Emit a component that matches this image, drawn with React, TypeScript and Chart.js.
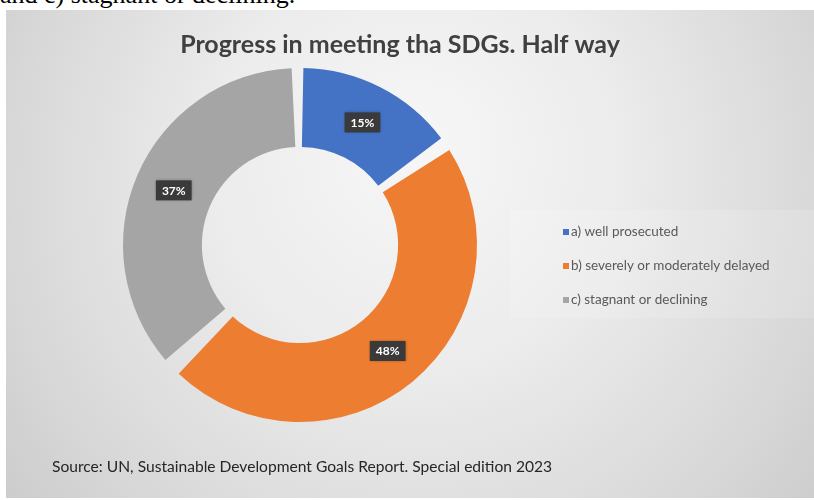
import React, { useEffect, useRef } from "react";
import { Chart, registerables } from "chart.js";

Chart.register(...registerables);

const categories = ["a) well prosecuted", "b) severely or moderately delayed", "c) stagnant or declining"];
const values = [15, 48, 37];
const sliceColors = ["#4472C4", "#ED7D31", "#A5A5A5"];
const titleText = "Progress in meeting tha SDGs. Half way";
const sourceText = "Source: UN, Sustainable Development Goals Report. Special edition 2023";
const topText = "and c) stagnant or declining.";

const W = 808;
const H = 488;

export default function App() {
  const ref = useRef<HTMLCanvasElement | null>(null);

  useEffect(() => {
    document.body.style.margin = "0";
    const canvas = ref.current;
    if (!canvas) return;

    const decor = {
      id: "decor",
      beforeDraw(chart: any) {
        const ctx = chart.ctx;
        ctx.save();
        const g = ctx.createRadialGradient(410, 130, 10, 410, 200, 560);
        g.addColorStop(0, "#f6f6f6");
        g.addColorStop(0.35, "#ececec");
        g.addColorStop(0.7, "#d9d9d9");
        g.addColorStop(1, "#c6c6c6");
        ctx.fillStyle = g;
        ctx.fillRect(0, 0, W, H);
        // legend panel
        ctx.fillStyle = "rgba(255,255,255,0.14)";
        ctx.fillRect(504, 200, 304, 108);
        ctx.restore();
      },
      afterDraw(chart: any) {
        const ctx = chart.ctx;
        ctx.save();
        // title
        ctx.fillStyle = "#404040";
        ctx.font = "bold 25px Lato";
        ctx.textAlign = "center";
        ctx.textBaseline = "middle";
        ctx.fillText(titleText, 394, 35);
        // source
        ctx.fillStyle = "#262626";
        ctx.font = "15.6px Lato";
        ctx.textAlign = "left";
        ctx.fillText(sourceText, 46, 457);
        // legend
        const labels = chart.data.labels as string[];
        const cols = chart.data.datasets[0].backgroundColor as string[];
        labels.forEach((lab, i) => {
          const y = 222 + i * 34;
          ctx.fillStyle = cols[i];
          ctx.fillRect(557, y - 3, 6, 6);
          ctx.fillStyle = "#595959";
          ctx.font = "13.5px Lato";
          ctx.fillText(lab, 565, y);
        });
        ctx.restore();
      },
      afterDatasetsDraw(chart: any) {
        const ctx = chart.ctx;
        const meta = chart.getDatasetMeta(0);
        const data = chart.data.datasets[0].data as number[];
        ctx.save();
        ctx.font = "bold 12px Lato";
        ctx.textAlign = "center";
        ctx.textBaseline = "middle";
        meta.data.forEach((arc: any, i: number) => {
          const p = arc.tooltipPosition();
          const txt = data[i] + "%";
          const w = ctx.measureText(txt).width + 12;
          const h = 20;
          ctx.shadowColor = "rgba(0,0,0,0.35)";
          ctx.shadowBlur = 3;
          ctx.fillStyle = "#3a3a3a";
          ctx.fillRect(p.x - w / 2, p.y - h / 2, w, h);
          ctx.shadowBlur = 0;
          ctx.shadowColor = "transparent";
          ctx.fillStyle = "#ffffff";
          ctx.fillText(txt, p.x, p.y + 0.5);
        });
        ctx.restore();
      },
    };

    const chart = new Chart(canvas, {
      type: "doughnut",
      data: {
        labels: categories,
        datasets: [
          {
            data: values,
            backgroundColor: sliceColors,
            borderWidth: 0,
            spacing: 11,
          } as any,
        ],
      },
      options: {
        animation: false,
        responsive: false,
        maintainAspectRatio: false,
        cutout: "54%",
        layout: { padding: { left: 117, right: 337, top: 58, bottom: 76 } },
        plugins: {
          legend: { display: false },
          title: { display: false },
          tooltip: { enabled: false },
        },
      },
      plugins: [decor],
    });
    return () => chart.destroy();
  }, []);

  return (
    <div style={{ position: "relative", width: 814, height: 500, background: "#ffffff", overflow: "hidden" }}>
      <div
        style={{
          position: "absolute",
          left: 0,
          top: -20,
          fontFamily: "'Liberation Serif', 'Times New Roman', serif",
          fontSize: 26,
          color: "#000",
          whiteSpace: "nowrap",
          lineHeight: "29px",
        }}
      >
        {topText}
      </div>
      <canvas
        ref={ref}
        width={W}
        height={H}
        style={{ position: "absolute", left: 6, top: 10, width: W, height: H }}
      />
    </div>
  );
}
